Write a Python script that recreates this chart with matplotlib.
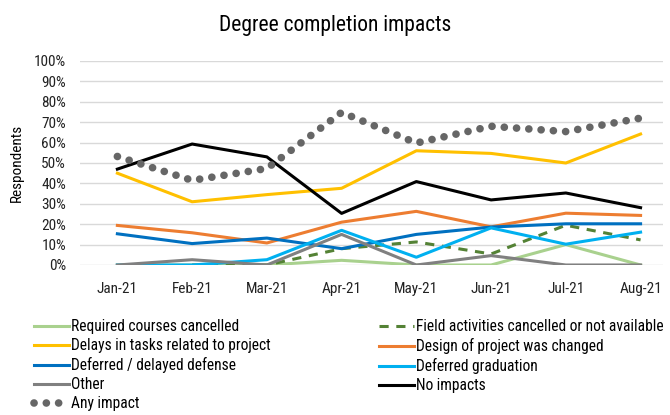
import numpy as np
import matplotlib
matplotlib.use('Agg')
import matplotlib.pyplot as plt
from matplotlib import font_manager
from matplotlib.ticker import PercentFormatter

installed = {f.name for f in font_manager.fontManager.ttflist}
if 'Roboto Condensed' in installed:
    plt.rcParams['font.family'] = ['Roboto Condensed', 'DejaVu Sans']
else:
    plt.rcParams['font.family'] = ['DejaVu Sans']
    plt.rcParams['font.stretch'] = 'condensed'

months = ['Jan-21', 'Feb-21', 'Mar-21', 'Apr-21', 'May-21', 'Jun-21', 'Jul-21', 'Aug-21']

required = [0, 0, 0, 2.3, 0, 0, 10, 0]
field = [np.nan, 0, 0, 8, 11.3, 5.4, 19.5, 12.3]
delays = [45, 31, 34.5, 37.6, 56, 54.7, 50, 64.2]
design = [19.4, 15.8, 10.8, 21, 26.3, 18.7, 25.4, 24.3]
defense = [15.3, 10.5, 13.2, 8, 15, 18.6, 20.2, 20.2]
graduation = [0, 0, 2.6, 17, 3.8, 18.2, 10.2, 16.1]
other = [0, 2.6, 0, 15, 0, 4.6, 0, 0]
no_impacts = [47, 59.3, 53, 25.3, 40.9, 31.9, 35.3, 28.1]
any_impact = [53.2, 41.5, 47.3, 74.8, 59.8, 68, 65.4, 72]

fig = plt.figure(figsize=(6.7, 4.15), dpi=100)
ax = fig.add_axes([80 / 670, 1 - 265 / 415, (663 - 80) / 670, (265 - 61) / 415])

x = np.arange(len(months))
lw = 2.2
series = [
    ('Required courses cancelled', required, dict(color='#A9D18E', lw=lw)),
    ('Field activities cancelled or not available', field, dict(color='#548235', lw=lw, ls=(0, (3, 2.5)))),
    ('Delays in tasks related to project', delays, dict(color='#FFC000', lw=lw)),
    ('Design of project was changed', design, dict(color='#ED7D31', lw=lw)),
    ('Deferred / delayed defense', defense, dict(color='#0070C0', lw=lw)),
    ('Deferred graduation', graduation, dict(color='#00B0F0', lw=lw)),
    ('Other', other, dict(color='#808080', lw=lw)),
    ('No impacts', no_impacts, dict(color='#000000', lw=lw)),
    ('Any impact', any_impact, dict(color='#666666', lw=5.5, ls=(0, (0.01, 1.6)),
                                    dash_capstyle='round')),
]

handles = {}
for name, vals, kw in series:
    h, = ax.plot(x, vals, label=name, **kw)
    handles[name] = h

ax.set_xlim(-0.5, 7.3)
ax.set_ylim(0, 100)
ax.set_yticks(np.arange(0, 101, 10))
ax.yaxis.set_major_formatter(PercentFormatter(decimals=0))
ax.set_xticks(x)
ax.set_xticklabels(months)
ax.grid(axis='y', color='#D9D9D9', lw=1)
ax.set_axisbelow(True)
for s in ax.spines.values():
    s.set_visible(False)
ax.tick_params(length=0, labelsize=11, colors='#222222')
ax.tick_params(axis='x', pad=12)
ax.tick_params(axis='y', pad=10)
ax.set_ylabel('Respondents', fontsize=11, labelpad=7)

fig.text(0.5, 0.938, 'Degree completion impacts', ha='center', va='center', fontsize=15.5)

order = ['Required courses cancelled', 'Delays in tasks related to project',
         'Deferred / delayed defense', 'Other', 'Any impact',
         'Field activities cancelled or not available', 'Design of project was changed',
         'Deferred graduation', 'No impacts']
leg = fig.legend([handles[n] for n in order], order, ncol=2, loc='upper left',
                 bbox_to_anchor=(34 / 670, 1 - 319 / 415), frameon=False, fontsize=11.2,
                 handlelength=2.25, handletextpad=0.12, labelspacing=0.26, columnspacing=7.0,
                 borderaxespad=0, borderpad=0)

fig.savefig('out.png', dpi=100)
